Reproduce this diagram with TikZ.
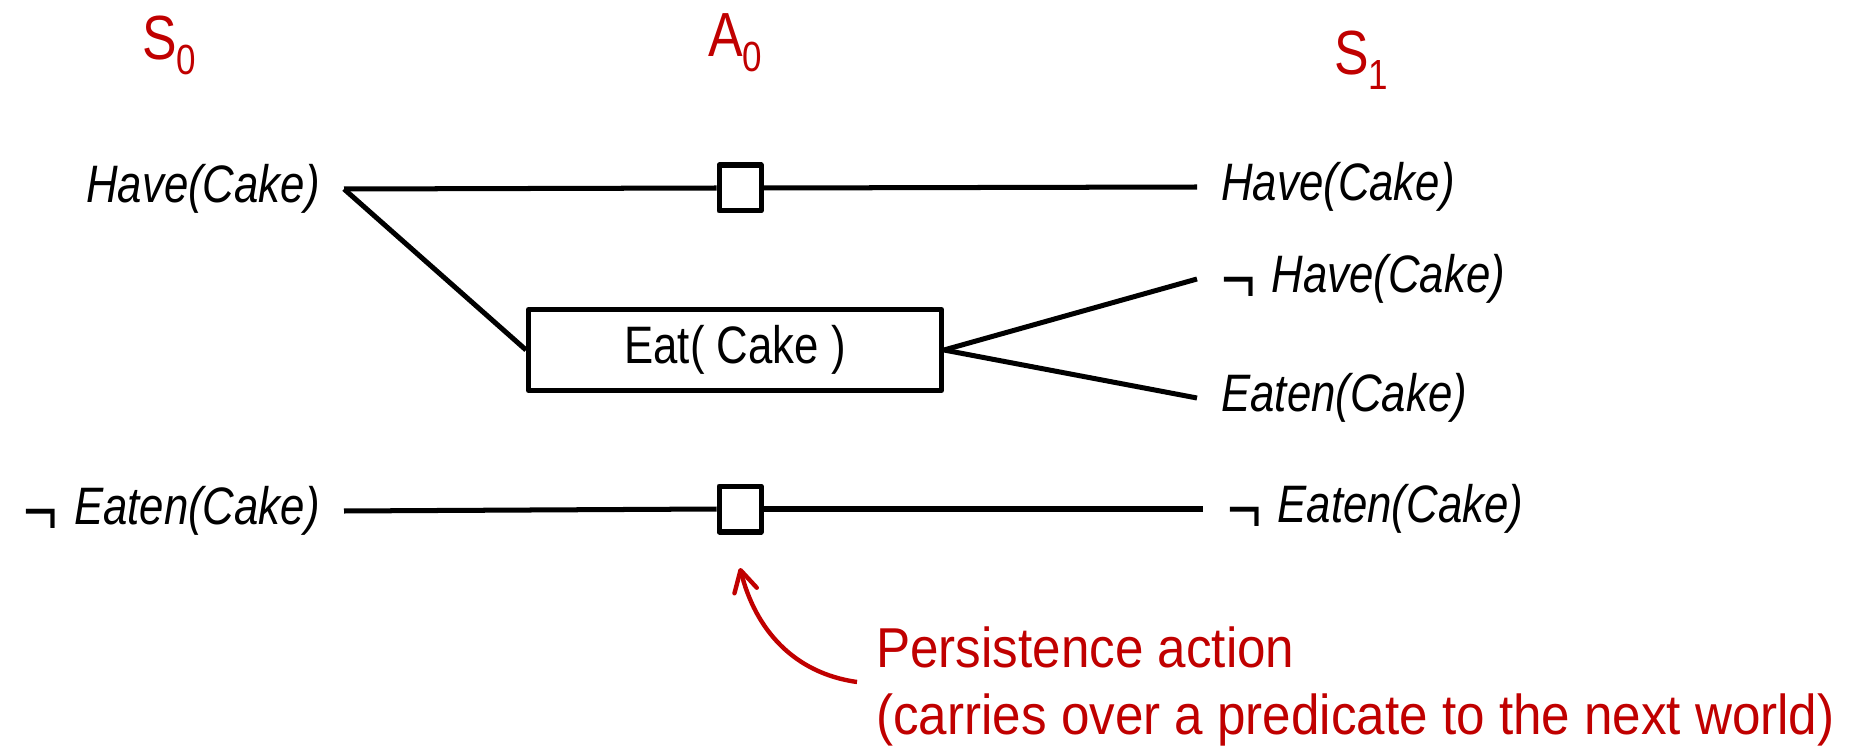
\documentclass[tikz,border=0pt]{standalone}
\usepackage{fontspec}
\usepackage{graphicx}
\setmainfont{Liberation Sans}[FakeStretch=0.83]
\newfontfamily\notefont{Liberation Sans}[FakeStretch=0.91]
\usetikzlibrary{arrows.meta}
\definecolor{accent}{RGB}{192,0,0}
% negation sign set slightly wider and lower than the running text
\newcommand\negsign{\raisebox{-0.18em}{\upshape\scalebox{1.35}[1.3]{¬}}\hspace{0.3em}}
% layer label with a lowered subscript digit
\newcommand\layerlab[2]{#1\raisebox{-8.5pt}{\fontsize{24}{28}\selectfont #2}}
\begin{document}
\begin{tikzpicture}[x=0.02cm,y=-0.02cm,
  wire/.style={line width=2.85pt},
  term/.style={font=\fontsize{30}{36}\selectfont\itshape, inner ysep=0pt, inner xsep=0.48cm},
  persist/.style={draw, line width=2.85pt, line join=round, fill=white, minimum width=0.84cm, minimum height=0.92cm, inner sep=0pt},
  actbox/.style={draw, line width=2.85pt, line join=round, minimum width=8.26cm, minimum height=1.62cm, inner sep=0pt, font=\fontsize{30}{36}\selectfont},
  layer/.style={text=accent, font=\fontsize{35.5}{42}\selectfont, inner sep=0pt, anchor=base west},
  note/.style={text=accent, font=\notefont\fontsize{32}{38}\selectfont, inner sep=0pt, anchor=base west},
  pointer/.style={draw=accent, line width=2.5pt, -{Straight Barb[length=0.42cm, width=0.46cm, line cap=round, line join=round]}},
]
\useasboundingbox (0,0) rectangle (1862,746);

% layer headings
\node[layer] (s0) at (142,60) {\layerlab{S}{0}};
\node[layer] (a0) at (708,57) {\layerlab{A}{0}};
\node[layer] (s1) at (1334,75) {\layerlab{S}{1}};

% state literals, level S0
\node[term, anchor=east] (hl) at (344,189) {Have(Cake)};
\node[term, anchor=east] (el) at (344,511) {\negsign Eaten(Cake)};

% action level A0
\node[persist] (p1) at (740,188) {};
\node[actbox] (eat) at (735,350) {Eat( Cake )};
\node[persist] (p2) at (740,509) {};

% state literals, level S1
\node[term, anchor=west] (hr) at (1197,187) {Have(Cake)};
\node[term, anchor=west] (nh) at (1197,279) {\negsign Have(Cake)};
\node[term, anchor=west] (ee) at (1197,398) {Eaten(Cake)};
\node[term, anchor=west] (ne) at (1203,509) {\negsign Eaten(Cake)};

% links
\draw[wire] (hl.east) -- (p1.west);
\draw[wire] (p1.east) -- (hr.west);
\draw[wire] (hl.east) -- (eat.west);
\draw[wire] (eat.east) -- (nh.west);
\draw[wire] (eat.east) -- (ee.west);
\draw[wire] (el.east) -- (p2.west);
\draw[wire] (p2.east) -- (ne.west);

% annotation
\node[note] (n1) at (876,667) {Persistence action};
\node[note] (n2) at (876,734) {(carries over a predicate to the next world)};
\coordinate (tail) at (857,682);
\coordinate (tip) at (740,568);
\draw[pointer] (tail) to[out=172, in=-76] (tip);
\end{tikzpicture}
\end{document}
